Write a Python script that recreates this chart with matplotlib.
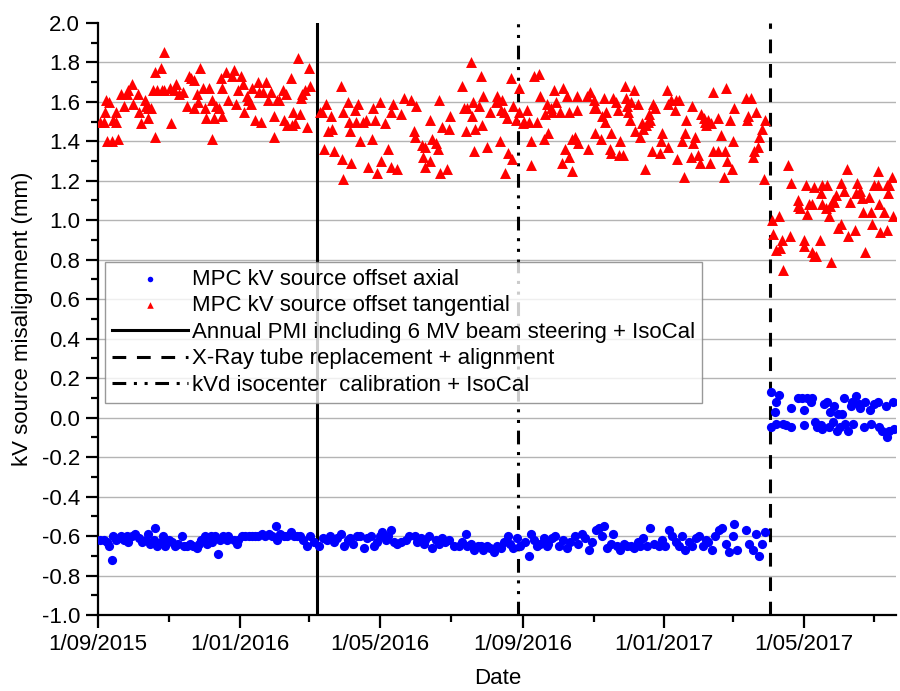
import matplotlib
matplotlib.use("Agg")
import matplotlib.pyplot as plt
import matplotlib.dates as mdates
from matplotlib.ticker import MultipleLocator, FuncFormatter
from datetime import datetime, timedelta

plt.rcParams['font.family'] = ['Liberation Sans', 'DejaVu Sans']

# dates are stored as days after 1/09/2015
start = datetime(2015, 9, 1)

# tangential offset (red triangles)
tang_days_a = [2, 5, 7, 9, 6, 8, 12, 13, 15, 15, 17, 20, 22, 25, 26, 29, 30, 34, 35, 37,
               40, 41, 43, 43, 46, 49, 49, 47, 51, 54, 55, 57, 57, 62, 63, 65, 67, 70, 73, 77,
               78, 80, 83, 83, 85, 86, 88, 90, 92, 93, 96, 98, 98, 100, 102, 104, 106, 107, 107, 110,
               112, 115, 117, 119, 121, 123, 125, 126, 128, 129, 132, 133, 135, 138, 139, 140, 142, 145, 146, 149,
               152, 152, 154, 156, 159, 160, 162, 163, 166, 167, 168, 170, 172, 174, 175, 176, 178, 180, 182, 183]
tang_vals_a = [1.50, 1.50, 1.61, 1.60, 1.55, 1.40, 1.40, 1.51, 1.55, 1.50, 1.41, 1.64, 1.58, 1.64, 1.66, 1.69, 1.59, 1.64, 1.55, 1.49,
               1.61, 1.58, 1.52, 1.57, 1.57, 1.75, 1.42, 1.66, 1.66, 1.77, 1.66, 1.85, 1.66, 1.67, 1.49, 1.66, 1.69, 1.64, 1.65, 1.58,
               1.73, 1.72, 1.71, 1.57, 1.64, 1.60, 1.77, 1.67, 1.57, 1.52, 1.67, 1.61, 1.41, 1.52, 1.58, 1.57, 1.72, 1.67, 1.53, 1.75,
               1.61, 1.73, 1.76, 1.59, 1.66, 1.73, 1.69, 1.55, 1.63, 1.61, 1.59, 1.67, 1.51, 1.70, 1.65, 1.50, 1.65, 1.70, 1.61, 1.65,
               1.42, 1.53, 1.61, 1.61, 1.66, 1.51, 1.64, 1.48, 1.72, 1.48, 1.55, 1.49, 1.82, 1.54, 1.62, 1.64, 1.66, 1.47, 1.77, 1.68]

tang_days_b = [191, 193, 195, 196, 198, 201, 202, 203, 209, 210, 211, 211, 215, 216, 217, 218, 221, 222, 224, 226, 228,
               231, 233, 236, 237, 239, 240, 243, 244, 247, 250, 252, 252, 254, 258, 261, 264, 270, 272, 273, 274,
               279, 280, 282, 282, 286, 286, 288, 291, 293, 294, 295, 296, 301, 302, 303, 314, 315, 317, 318, 321,
               322, 323, 324, 325, 328, 330, 331, 332, 335, 338, 343, 344, 346, 347, 348, 350, 351, 352, 353, 356,
               357, 358, 360, 363, 363, 366, 367, 370, 371, 373, 373, 376, 378, 380, 381, 384, 385, 387, 388, 390,
               391, 393, 395, 398, 400, 401, 402, 404, 406, 406, 408, 408, 411, 413, 413, 414]
tang_vals_b = [1.55, 1.55, 1.36, 1.59, 1.45, 1.53, 1.46, 1.35, 1.68, 1.31, 1.55, 1.21, 1.60, 1.50, 1.45, 1.29, 1.56, 1.50, 1.59, 1.40, 1.50,
               1.51, 1.27, 1.41, 1.57, 1.51, 1.24, 1.60, 1.30, 1.49, 1.36, 1.55, 1.27, 1.59, 1.26, 1.54, 1.62, 1.61, 1.45, 1.42, 1.58,
               1.38, 1.32, 1.37, 1.27, 1.30, 1.51, 1.41, 1.39, 1.36, 1.61, 1.24, 1.47, 1.26, 1.46, 1.53, 1.68, 1.57, 1.45, 1.57, 1.80,
               1.53, 1.60, 1.35, 1.46, 1.58, 1.73, 1.48, 1.63, 1.37, 1.55, 1.60, 1.63, 1.40, 1.56, 1.61, 1.55, 1.24, 1.52, 1.34, 1.72,
               1.31, 1.58, 1.51, 1.67, 1.55, 1.49, 1.50, 1.56, 1.50, 1.28, 1.40, 1.73, 1.50, 1.74, 1.63, 1.41, 1.54, 1.59, 1.44, 1.57,
               1.55, 1.66, 1.60, 1.55, 1.29, 1.67, 1.36, 1.63, 1.32, 1.55, 1.25, 1.41, 1.42, 1.63, 1.56, 1.39]

tang_days_c = [421, 422, 424, 427, 427, 428, 429, 433, 434, 436, 437, 438, 441, 442, 442, 444, 446, 448, 449, 450,
               452, 454, 455, 456, 457, 458, 459, 462, 463, 465, 467, 469, 470, 471, 472, 474, 475, 476, 477, 478,
               480, 484, 485, 486, 490, 491, 491, 494, 497, 498, 499, 501, 503, 505, 506, 507, 511, 512, 513, 514,
               517, 519, 520, 522, 523, 524, 526, 527, 528, 530, 530, 534, 534, 537, 539, 540, 541, 542, 545, 546,
               547, 548, 558, 559, 560, 563, 564, 565, 567, 569, 570, 572, 574, 575]
tang_vals_c = [1.63, 1.36, 1.65, 1.61, 1.57, 1.44, 1.57, 1.41, 1.53, 1.62, 1.50, 1.55, 1.36, 1.34, 1.44, 1.62, 1.60, 1.56, 1.33, 1.40,
               1.33, 1.68, 1.62, 1.58, 1.55, 1.51, 1.60, 1.66, 1.45, 1.59, 1.42, 1.49, 1.46, 1.26, 1.48, 1.50, 1.54, 1.51, 1.35, 1.59,
               1.57, 1.34, 1.40, 1.44, 1.66, 1.59, 1.37, 1.61, 1.56, 1.61, 1.31, 1.61, 1.40, 1.22, 1.44, 1.51, 1.32, 1.58, 1.39, 1.42,
               1.33, 1.29, 1.54, 1.52, 1.50, 1.48, 1.51, 1.29, 1.49, 1.65, 1.35, 1.52, 1.35, 1.43, 1.22, 1.35, 1.67, 1.30, 1.51, 1.26,
               1.40, 1.57, 1.62, 1.51, 1.53, 1.62, 1.32, 1.35, 1.55, 1.37, 1.42, 1.46, 1.21, 1.51]

tang_days_d = [581, 582, 584, 587, 588, 589, 590, 595, 596, 597, 603, 603, 605, 608, 608, 610, 611, 613, 615, 615,
               617, 617, 619, 622, 623, 624, 624, 627, 628, 630, 631, 632, 633, 634, 636, 638, 640, 640, 643, 645,
               646, 648, 652, 653, 654, 657, 658, 659, 661, 664, 666, 667, 669, 672, 672, 673, 674, 677, 680, 680,
               681, 682, 684, 685]
tang_vals_d = [1.00, 0.93, 0.85, 1.02, 0.86, 0.90, 0.75, 1.28, 0.92, 1.19, 1.10, 1.07, 1.06, 0.90, 0.87, 1.18, 1.03, 1.08, 1.08, 0.84,
               1.17, 0.82, 0.82, 0.90, 1.14, 1.08, 1.18, 1.06, 1.18, 1.02, 1.07, 0.79, 1.10, 1.09, 1.13, 0.96, 1.19, 0.98, 1.15, 1.26,
               0.92, 1.09, 0.95, 1.14, 1.19, 1.15, 1.11, 1.04, 0.84, 1.12, 1.04, 0.98, 1.18, 1.18, 1.25, 1.08, 0.94, 1.04, 1.18, 0.95,
               1.14, 1.18, 1.22, 1.02]

# axial offset (blue circles)
axial_days_a = [2, 5, 8, 9, 12, 13, 15, 18, 20, 22, 25, 26, 29, 32, 35, 38, 41, 43, 45, 48,
                49, 51, 54, 56, 58, 61, 64, 66, 69, 72, 74, 77, 79, 82, 85, 87, 89, 92, 94, 97,
                98, 101, 103, 105, 108, 111, 112, 117, 120, 121, 124, 127, 130, 133, 135, 138, 141, 144, 147, 150,
                153, 154, 157, 160, 163, 166, 169, 171, 174, 177, 180, 183, 186, 190]
axial_vals_a = [-0.62, -0.62, -0.63, -0.65, -0.72, -0.60, -0.62, -0.61, -0.60, -0.62, -0.60, -0.63, -0.60, -0.59, -0.61, -0.63, -0.62, -0.59, -0.64, -0.62,
                -0.56, -0.65, -0.63, -0.60, -0.65, -0.62, -0.63, -0.65, -0.64, -0.60, -0.65, -0.65, -0.64, -0.65, -0.66, -0.64, -0.62, -0.60, -0.64, -0.60,
                -0.63, -0.60, -0.69, -0.62, -0.60, -0.62, -0.60, -0.62, -0.64, -0.62, -0.60, -0.60, -0.60, -0.60, -0.60, -0.60, -0.59, -0.60, -0.59, -0.60,
                -0.55, -0.62, -0.59, -0.60, -0.60, -0.58, -0.60, -0.60, -0.60, -0.62, -0.65, -0.60, -0.63, -0.65]

axial_days_b = [194, 197, 200, 203, 206, 209, 212, 215, 217, 220, 223, 226, 229, 232, 235, 238, 240, 243, 245, 248,
                250, 252, 255, 258, 261, 265, 268, 273, 275, 278, 281, 282, 285, 288, 291, 294, 296, 299, 302, 307,
                311, 314, 317, 318, 321, 324, 327, 330, 332, 335, 338, 341, 344, 347, 350, 353, 355, 358, 361, 364,
                368, 371, 373, 376, 378, 381, 384, 387]
axial_vals_b = [-0.61, -0.62, -0.60, -0.63, -0.61, -0.59, -0.65, -0.62, -0.61, -0.64, -0.60, -0.60, -0.66, -0.61, -0.60, -0.65, -0.63, -0.60, -0.58, -0.62,
                -0.60, -0.57, -0.63, -0.64, -0.63, -0.62, -0.60, -0.60, -0.63, -0.61, -0.64, -0.62, -0.60, -0.66, -0.62, -0.64, -0.61, -0.63, -0.62, -0.65,
                -0.65, -0.63, -0.59, -0.65, -0.64, -0.67, -0.65, -0.65, -0.67, -0.65, -0.66, -0.68, -0.65, -0.66, -0.63, -0.60, -0.64, -0.66, -0.61, -0.65,
                -0.63, -0.70, -0.59, -0.62, -0.65, -0.64, -0.61, -0.65]

axial_days_c = [388, 391, 394, 397, 401, 404, 407, 411, 414, 417, 420, 423, 426, 429, 432, 434, 436, 439, 442, 444,
                447, 450, 453, 456, 459, 462, 465, 467, 470, 473, 476, 479, 483, 486, 489, 492, 495, 498, 501, 503,
                506, 509, 512, 515, 518, 521, 524, 526, 529, 532, 535, 538, 541, 544, 547, 548, 551, 558, 561, 564,
                567, 570, 572, 575]
axial_vals_c = [-0.64, -0.61, -0.60, -0.65, -0.62, -0.66, -0.63, -0.60, -0.64, -0.59, -0.61, -0.67, -0.63, -0.57, -0.56, -0.60, -0.55, -0.66, -0.64, -0.59,
                -0.65, -0.67, -0.64, -0.65, -0.65, -0.66, -0.63, -0.65, -0.61, -0.65, -0.56, -0.64, -0.65, -0.62, -0.65, -0.57, -0.60, -0.63, -0.65, -0.60,
                -0.67, -0.63, -0.65, -0.61, -0.60, -0.65, -0.62, -0.63, -0.67, -0.60, -0.57, -0.56, -0.64, -0.68, -0.60, -0.54, -0.67, -0.57, -0.64, -0.67,
                -0.59, -0.70, -0.64, -0.58]

axial_days_d = [580, 587, 584, 583, 580, 584, 590, 593, 597, 597, 603, 607, 608, 608, 611, 614, 615, 618, 620, 623,
                624, 626, 628, 630, 631, 633, 634, 637, 638, 639, 641, 643, 644, 646, 649, 650, 651, 653, 656, 657,
                660, 661, 665, 666, 669, 672, 673, 676, 679, 680, 682, 685, 686]
axial_vals_d = [0.13, 0.115, 0.08, 0.03, -0.05, -0.03, -0.03, -0.04, -0.05, 0.047, 0.10, 0.10, 0.04, -0.04, 0.10, 0.08, 0.10, -0.02, -0.05, -0.04,
                -0.06, 0.07, 0.08, -0.05, 0.03, -0.02, 0.06, -0.07, 0.02, -0.05, 0.02, 0.10, -0.03, -0.07, 0.06, 0.08, -0.03, 0.11, 0.07, 0.05,
                -0.05, 0.08, 0.04, -0.03, 0.07, 0.08, -0.05, -0.07, 0.06, -0.10, -0.07, 0.08, -0.06]

# events (days after start)
pmi_day = 189
kvd_day = 362
tube_day = 579

legend_labels = ["MPC kV source offset axial",
                 "MPC kV source offset tangential",
                 "Annual PMI including 6 MV beam steering + IsoCal",
                 "X-Ray tube replacement + alignment",
                 "kVd isocenter  calibration + IsoCal"]


def to_dates(days):
    return [start + timedelta(days=d) for d in days]


axial_days = axial_days_a + axial_days_b + axial_days_c + axial_days_d
axial_vals = axial_vals_a + axial_vals_b + axial_vals_c + axial_vals_d
tang_days = tang_days_a + tang_days_b + tang_days_c + tang_days_d
tang_vals = tang_vals_a + tang_vals_b + tang_vals_c + tang_vals_d

fig = plt.figure(figsize=(9, 6.91), dpi=100)
ax = fig.add_axes([0.109, 0.110, 0.887, 0.857])

for yv in [-0.8, -0.6, -0.4, -0.2, 0.0, 0.2, 0.4, 0.6, 0.8, 1.0, 1.2, 1.4, 1.6, 1.8]:
    ax.axhline(yv, color="#b4b4b4", lw=1.0, zorder=0)

ax.scatter(to_dates(axial_days), axial_vals, s=44, color="#0000ff", marker="o",
           linewidths=0, label=legend_labels[0], zorder=3)
ax.scatter(to_dates(tang_days), tang_vals, s=62, color="#ff0000", marker="^",
           linewidths=0, label=legend_labels[1], zorder=3)

ax.axvline(start + timedelta(days=pmi_day), color="black", lw=2.2,
           label=legend_labels[2], zorder=2)
ax.axvline(start + timedelta(days=tube_day), color="black", lw=2.2,
           linestyle=(0, (4.5, 3.5)), label=legend_labels[3], zorder=2)
ax.axvline(start + timedelta(days=kvd_day), color="black", lw=2.2,
           linestyle=(0, (4.5, 2.5, 1, 2.5, 1, 2.5)), label=legend_labels[4], zorder=2)

ax.set_xlim(start, start + timedelta(days=688))
ax.set_ylim(-1.0, 2.0)

ax.yaxis.set_major_locator(MultipleLocator(0.2))
ax.yaxis.set_minor_locator(MultipleLocator(0.1))
ax.yaxis.set_major_formatter(FuncFormatter(lambda v, p: f"{v:.1f}"))
ax.xaxis.set_major_locator(mdates.MonthLocator(bymonth=[1, 5, 9]))
ax.xaxis.set_minor_locator(mdates.MonthLocator(bymonth=[3, 7, 11]))
ax.xaxis.set_major_formatter(FuncFormatter(
    lambda v, p: "{}/{:02d}/{}".format(mdates.num2date(v).day, mdates.num2date(v).month, mdates.num2date(v).year)))

ax.spines["top"].set_visible(False)
ax.spines["right"].set_visible(False)
ax.spines["left"].set_linewidth(1.6)
ax.spines["bottom"].set_linewidth(1.6)
ax.tick_params(which="major", direction="out", length=9, width=1.6, labelsize=16, colors="black")
ax.tick_params(which="minor", direction="out", length=5, width=1.6)
ax.tick_params(axis="x", which="major", pad=5)
ax.tick_params(axis="y", which="major", pad=4)

ax.set_xlabel("Date", fontsize=16, labelpad=9)
ax.set_ylabel("kV source misalignment (mm)", fontsize=16, labelpad=6)

leg = ax.legend(loc="upper left", bbox_to_anchor=(0.009, 0.596), borderaxespad=0,
                fontsize=16, frameon=True, fancybox=False, handlelength=3.4,
                scatterpoints=1, markerscale=0.6, labelspacing=0.25,
                borderpad=0.3, handletextpad=0.2)
leg.get_frame().set_edgecolor("#808080")
leg.get_frame().set_linewidth(1.0)

fig.savefig("out.png", dpi=100)
